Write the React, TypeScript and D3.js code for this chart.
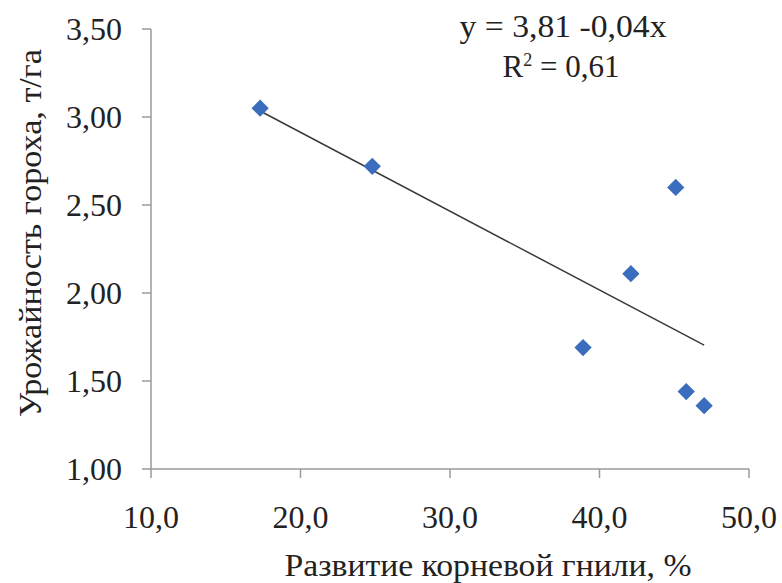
import React from "react";
import * as d3 from "d3";

const rootRotX = [17.3, 24.8, 38.9, 42.1, 45.1, 45.8, 47.0];
const yieldY = [3.05, 2.72, 1.69, 2.11, 2.6, 1.44, 1.36];
const xTicks = [10, 20, 30, 40, 50];
const yTicks = [1.0, 1.5, 2.0, 2.5, 3.0, 3.5];
const xTitle = "Развитие корневой гнили, %";
const yTitle = "Урожайность гороха, т/га";
const eqText = "y = 3,81 -0,04x";

const W = 782;
const H = 583;
const fmt = (v: number, d: number) => v.toFixed(d).replace(".", ",");

export default function App() {
  const x = d3.scaleLinear().domain([10, 50]).range([151, 749]);
  const y = d3.scaleLinear().domain([1, 3.5]).range([469, 29]);

  const mx = d3.mean(rootRotX) as number;
  const my = d3.mean(yieldY) as number;
  let sxy = 0, sxx = 0;
  rootRotX.forEach((v, i) => {
    sxy += (v - mx) * (yieldY[i] - my);
    sxx += (v - mx) * (v - mx);
  });
  const slope = sxy / sxx;
  const icpt = my - slope * mx;
  const x0 = d3.min(rootRotX) as number;
  const x1 = d3.max(rootRotX) as number;
  const trend = d3.line<number>().x((d) => x(d)).y((d) => y(icpt + slope * d))([x0, x1]) as string;

  const diamond = d3.symbol().type(d3.symbolDiamond2).size(190)() as string;
  const axisColor = "#9a9a9a";
  const textColor = "#222";
  const font = "'Liberation Serif', 'Times New Roman', serif";

  return (
    <svg width={W} height={H} style={{ position: "absolute", left: 0, top: 0, background: "#fff" }} fontFamily={font}>
      {/* axes */}
      <line x1={x(10)} x2={x(50)} y1={y(1)} y2={y(1)} stroke={axisColor} strokeWidth={1.5} />
      <line x1={x(10)} x2={x(10)} y1={y(3.5)} y2={y(1)} stroke={axisColor} strokeWidth={1.5} />
      {xTicks.map((t) => (
        <g key={"xt" + t}>
          <line x1={x(t)} x2={x(t)} y1={y(1)} y2={y(1) + 9} stroke={axisColor} strokeWidth={1.5} />
          <text x={x(t)} y={528} textAnchor="middle" fontSize={32} fill={textColor}>{fmt(t, 1)}</text>
        </g>
      ))}
      {yTicks.map((t) => (
        <g key={"yt" + t}>
          <line x1={x(10) - 9} x2={x(10)} y1={y(t)} y2={y(t)} stroke={axisColor} strokeWidth={1.5} />
          <text x={122} y={y(t) + 11} textAnchor="end" fontSize={32} fill={textColor}>{fmt(t, 2)}</text>
        </g>
      ))}
      {/* titles */}
      <text x={488} y={576} textAnchor="middle" fontSize={31} fill={textColor} textLength={407} lengthAdjust="spacingAndGlyphs">{xTitle}</text>
      <text transform={`translate(41,233) rotate(-90)`} textAnchor="middle" fontSize={31} fill={textColor} textLength={368} lengthAdjust="spacingAndGlyphs">{yTitle}</text>
      {/* trend line */}
      <path d={trend} stroke="#3a3a3a" strokeWidth={1.5} fill="none" />
      {/* points */}
      {rootRotX.map((v, i) => (
        <path key={"p" + i} d={diamond} transform={`translate(${x(v)},${y(yieldY[i])})`} fill="#3a6dbe" />
      ))}
      {/* equation */}
      <text x={563} y={37} textAnchor="middle" fontSize={31} fill={textColor} textLength={207} lengthAdjust="spacingAndGlyphs">{eqText}</text>
      <text x={561} y={77} textAnchor="middle" fontSize={31} fill={textColor}>
        R<tspan fontSize={18} dy={-11}>2</tspan><tspan dy={11}> = 0,61</tspan>
      </text>
    </svg>
  );
}
